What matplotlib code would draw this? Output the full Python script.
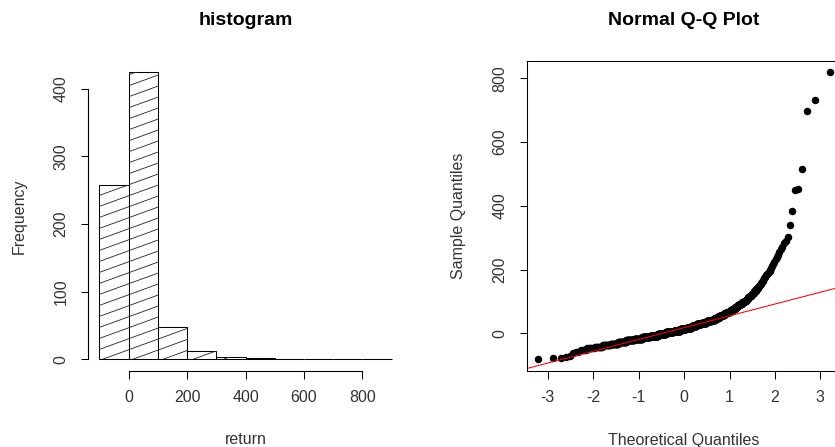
import numpy as np
import matplotlib
matplotlib.use('Agg')
import matplotlib.pyplot as plt
from matplotlib.collections import LineCollection
from statistics import NormalDist

plt.rcParams['font.family'] = ['Liberation Sans', 'DejaVu Sans']
plt.rcParams['axes.unicode_minus'] = False

low_tail = [-82, -78, -77, -75, -70, -63]
mid_levels = [-57.5, -52.5, -47.5, -42.5, -37.5, -32.5, -27.5, -22.5, -17.5, -12.5, -7.5, -2.5,
              2.5, 7.5, 12.5, 17.5, 22.5, 27.5, 32.5, 37.5, 42.5, 47.5,
              52.5, 57.5, 62.5, 67.5, 72.5, 77.5, 82.5, 87.5, 92.5, 97.5,
              102.5, 107.5, 112.5, 117.5, 122.5, 127.5, 132.5, 137.5, 142.5, 147.5]
mid_counts = [2, 4, 6, 9, 12, 16, 21, 26, 32, 36, 42, 46,
              48, 44, 39, 35, 32, 31, 30, 28, 20, 18,
              15, 13, 13, 12, 9, 8, 8, 7, 7, 7,
              5, 4, 4, 4, 3, 3, 3, 2, 3, 2]
high_tail = [152, 155, 158, 162, 165, 168, 172, 175, 178, 182, 185, 188, 192, 195, 198,
             205, 211, 218, 225, 232, 239, 247, 254, 263, 272, 282, 291,
             302, 341, 384, 450, 452, 516, 699, 731, 819]
hist_breaks = [-100, 0, 100, 200, 300, 400, 500, 600, 700, 800, 900]

returns = np.concatenate([low_tail, np.repeat(mid_levels, mid_counts), high_tail])

W, H = 835, 447
fig = plt.figure(figsize=(W / 100, H / 100), dpi=100)

def px_box(left, top, right, bottom):
    return [left / W, 1 - bottom / H, (right - left) / W, (bottom - top) / H]

ax1 = fig.add_axes(px_box(87.7, 60.9, 403.3, 370.8))
ax2 = fig.add_axes(px_box(526.7, 60.9, 841.5, 370.8))

txt = '#333333'
tick_kw = dict(direction='out', length=5.4, width=0.75, pad=8.5, labelsize=11.5,
               color='black', labelcolor=txt)

# ---- histogram ----
counts, edges, bars = ax1.hist(returns, bins=hist_breaks, facecolor='white',
                               edgecolor='black', linewidth=0.75)
span = edges[-1] - edges[0]
ax1.set_xlim(edges[0] - 0.04 * span, edges[-1] + 0.04 * span)
ax1.set_ylim(-0.04 * counts.max(), counts.max() * 1.04)
for s in ['top', 'right']:
    ax1.spines[s].set_visible(False)
ax1.set_xticks([0, 200, 400, 600, 800])
ax1.set_yticks([0, 100, 200, 300, 400])
ax1.spines['bottom'].set_bounds(0, 800)
ax1.spines['left'].set_bounds(0, 400)
ax1.tick_params(**tick_kw)

# shading lines at ~20 degrees, clipped to each bar
trans = ax1.transData
(x0p, y0p), (x1p, y1p) = trans.transform([(ax1.get_xlim()[0], ax1.get_ylim()[0]),
                                          (ax1.get_xlim()[1], ax1.get_ylim()[1])])
slope_px = np.tan(np.radians(20))
gap = 11.0
segs = []
off = -(x1p - x0p) * slope_px
while off < (y1p - y0p):
    p = np.array([[x0p, y0p + off], [x1p, y0p + off + slope_px * (x1p - x0p)]])
    segs.append(trans.inverted().transform(p))
    off += gap
for bar in bars:
    lc = LineCollection(segs, colors='#222222', linewidths=0.6)
    ax1.add_collection(lc, autolim=False)
    lc.set_clip_path(bar)

ax1.set_title('histogram', fontweight='bold', fontsize=14, y=1.129, pad=0, va='center')
ax1.set_xlabel('return', fontsize=11.5, color=txt)
ax1.set_ylabel('Frequency', fontsize=11.5, color=txt)
ax1.xaxis.set_label_coords(0.5, -0.223)
ax1.xaxis.label.set_va('center')
ax1.yaxis.set_label_coords(-0.216, 0.5)
ax1.yaxis.label.set_va('center')

# ---- normal Q-Q plot ----
nd = NormalDist()
sample = np.sort(returns)
n = len(sample)
probs = (np.arange(1, n + 1) - 0.5) / n
theo = np.array([nd.inv_cdf(p) for p in probs])
ax2.plot(theo, sample, 'o', ms=5.4, color='black', mew=0)

q1, q3 = np.percentile(sample, [25, 75])
z1, z3 = nd.inv_cdf(0.25), nd.inv_cdf(0.75)
slope = (q3 - q1) / (z3 - z1)
ax2.axline((z1, q1), slope=slope, color='red', lw=0.75)

tr = theo.max() - theo.min()
sr = sample.max() - sample.min()
ax2.set_xlim(theo.min() - 0.04 * tr, theo.max() + 0.04 * tr)
ax2.set_ylim(sample.min() - 0.04 * sr, sample.max() + 0.04 * sr)
ax2.set_xticks([-3, -2, -1, 0, 1, 2, 3])
ax2.set_yticks([0, 200, 400, 600, 800])
ax2.tick_params(**tick_kw)
for s in ax2.spines.values():
    s.set_linewidth(0.75)

ax2.set_title('Normal Q-Q Plot', fontweight='bold', fontsize=14, y=1.129, pad=0, va='center')
ax2.set_xlabel('Theoretical Quantiles', fontsize=11.5, color=txt)
ax2.set_ylabel('Sample Quantiles', fontsize=11.5, color=txt)
ax2.xaxis.set_label_coords(0.5, -0.226)
ax2.xaxis.label.set_va('center')
ax2.yaxis.set_label_coords(-0.218, 0.5)
ax2.yaxis.label.set_va('center')

for ax in (ax1, ax2):
    for lab in ax.get_yticklabels():
        lab.set_rotation(90)
        lab.set_va('center')

fig.savefig('out.png', dpi=100)
